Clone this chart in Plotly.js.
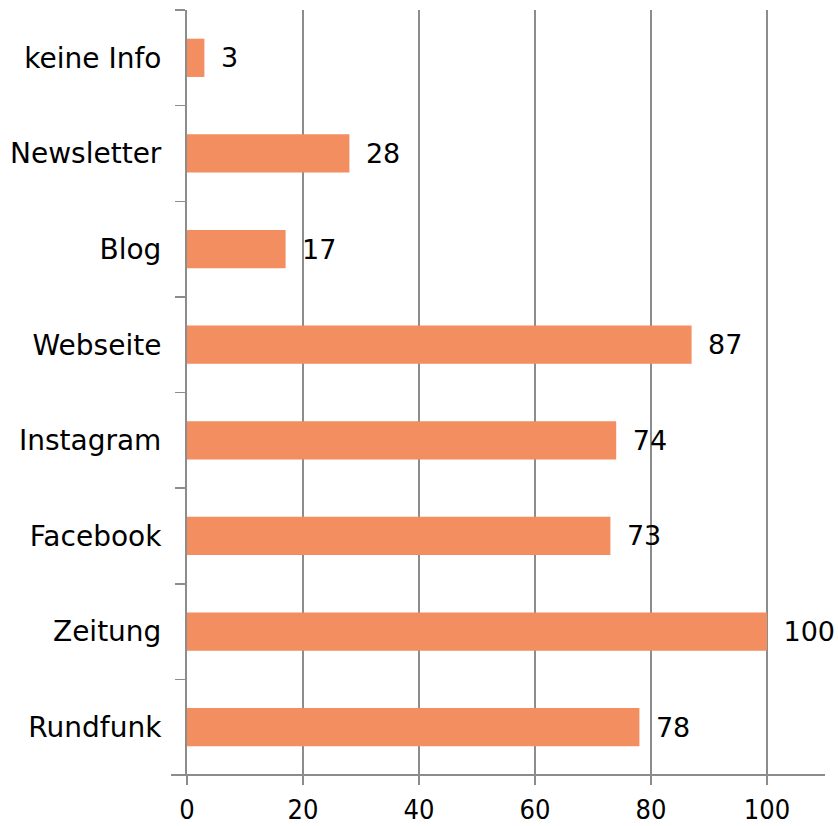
<!DOCTYPE html>
<html>
<head>
<meta charset="utf-8">
<script src="https://cdn.plot.ly/plotly-3.0.1.min.js"></script>
<style>html,body{margin:0;padding:0;background:#fff;}#chart{width:838px;height:826px;}</style>
</head>
<body>
<div id="chart"></div>
<script>
const categories = ["Rundfunk", "Zeitung", "Facebook", "Instagram", "Webseite", "Blog", "Newsletter", "keine Info"];
const values = [78, 100, 73, 74, 87, 17, 28, 3];
const xTicks = [0, 20, 40, 60, 80, 100];

const axisGray = "#8c8c8c";
const trace = {
  type: "bar",
  orientation: "h",
  x: values,
  y: categories,
  marker: {color: "#F28E5F"},
  width: 0.4,
  text: values.map(v => "\u2002" + v),
  textposition: "outside",
  constraintext: "none",
  cliponaxis: false,
  textfont: {family: "DejaVu Sans", size: 27, color: "#000"},
  hoverinfo: "none"
};

const layout = {
  width: 838, height: 826,
  margin: {l: 187, r: 13, t: 10, b: 51},
  paper_bgcolor: "#fff", plot_bgcolor: "#fff",
  showlegend: false,
  font: {family: "DejaVu Sans", size: 26, color: "#000"},
  xaxis: {
    range: [0, 110],
    tickvals: xTicks,
    ticktext: xTicks.map(String),
    showgrid: true, gridcolor: axisGray, gridwidth: 1.3,
    zeroline: false,
    showline: false,
    ticks: "outside", ticklen: 9, tickcolor: axisGray, tickwidth: 1.5,
    ticklabelstandoff: 2,
    tickfont: {family: "DejaVu Sans Condensed, Liberation Sans, sans-serif", size: 27, color: "#000"},
    fixedrange: true
  },
  yaxis: {
    type: "category",
    categoryorder: "array", categoryarray: categories,
    range: [-0.5, 7.5],
    showgrid: false, zeroline: false,
    showline: true, linecolor: axisGray, linewidth: 2,
    ticks: "outside", tickson: "boundaries", ticklen: 10, tickcolor: axisGray, tickwidth: 1.5,
    ticklabelstandoff: 18,
    tickfont: {family: "DejaVu Sans", size: 28, color: "#000"},
    fixedrange: true
  },
  shapes: [
    {type: "line", xref: "paper", yref: "paper", x0: -0.025, x1: 1, y0: 0, y1: 0,
     line: {color: axisGray, width: 2}}
  ]
};

Plotly.newPlot("chart", [trace], layout, {displayModeBar: false, staticPlot: true});
</script>
</body>
</html>
